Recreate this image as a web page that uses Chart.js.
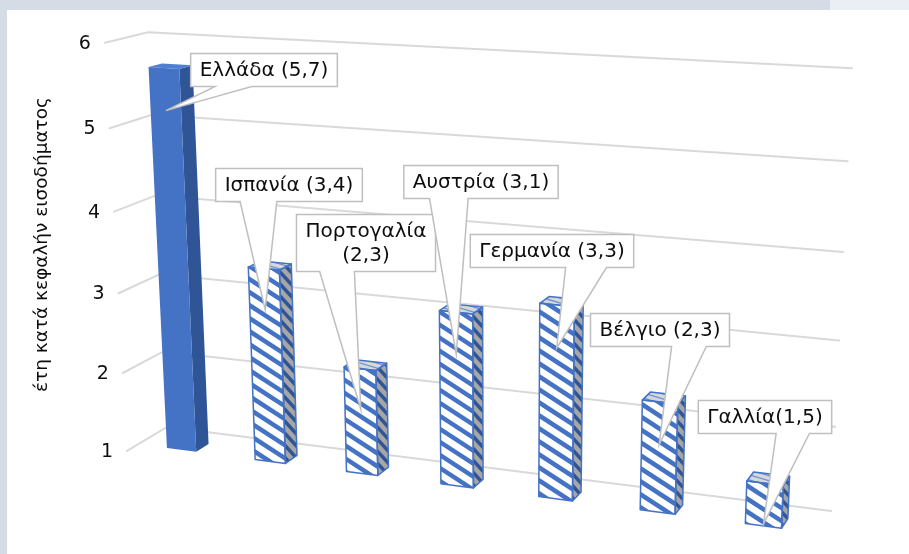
<!DOCTYPE html>
<html><head><meta charset="utf-8">
<script src="https://cdn.jsdelivr.net/npm/chart.js@4/dist/chart.umd.min.js"></script>
<style>html,body{margin:0;padding:0;background:#fff;}canvas{display:block;}</style>
</head><body>
<canvas id="c" width="909" height="554"></canvas>
<script>
// ---------- data ----------
const categories = ['Ελλάδα', 'Ισπανία', 'Πορτογαλία', 'Αυστρία', 'Γερμανία', 'Βέλγιο', 'Γαλλία'];
const values = [5.7, 3.4, 2.3, 3.1, 3.3, 2.3, 1.5];
const yTicks = [1, 2, 3, 4, 5, 6];
const axisTitle = 'έτη κατά κεφαλήν εισοδήματος';
const labelSeparators = [' ', ' ', '\n', ' ', ' ', ' ', ''];

// ---------- layout / style ----------
const calloutCenters = [[264, 70], [289, 185], [366, 243], [481, 182], [552, 251], [660, 330], [765, 417]];
const calloutSides = ['L', 'L', 'L', 'L', 'R', 'R', 'R'];
const highlightIndex = 0;
const FONT = '"DejaVu Sans", sans-serif';
const BLUE = '#4472C4';
const Z_FRONT = 0.725, Z_BACK = 0.406;

// perspective projection of the 3D box (X: 0..1 across, Y: 0..5 up, Z: 0 back .. 1 front)
function proj(X, Y, Z) {
  const w = 1 - 0.113 * X - 0.010704 * Y - 0.03445 * Z;
  return [(167 + 570.1 * X - 5.384 * Y - 44.37 * Z) / w,
          (427 + 26.33 * X - 79.29 * Y + 8.44 * Z) / w];
}
function pathPoly(ctx, poly) {
  ctx.beginPath();
  ctx.moveTo(poly[0][0], poly[0][1]);
  for (let i = 1; i < poly.length; i++) ctx.lineTo(poly[i][0], poly[i][1]);
  ctx.closePath();
}
function fillHatch(ctx, poly, bg, col, slope, period, lw) {
  ctx.save();
  pathPoly(ctx, poly);
  ctx.fillStyle = bg; ctx.fill(); ctx.clip();
  const xs = poly.map(p => p[0]), ys = poly.map(p => p[1]);
  const x0 = Math.min(...xs) - 3, x1 = Math.max(...xs) + 3;
  const y0 = Math.min(...ys) - 3, y1 = Math.max(...ys) + 3;
  ctx.strokeStyle = col; ctx.lineWidth = lw;
  const cMin = Math.min(y0 - slope * x1, y0 - slope * x0) - period;
  const cMax = Math.max(y1 - slope * x0, y1 - slope * x1) + period;
  for (let c = Math.floor(cMin / period) * period; c <= cMax; c += period) {
    ctx.beginPath(); ctx.moveTo(x0, c + slope * x0); ctx.lineTo(x1, c + slope * x1); ctx.stroke();
  }
  ctx.restore();
}
function strokePoly(ctx, poly, col, lw) {
  ctx.save(); pathPoly(ctx, poly); ctx.strokeStyle = col; ctx.lineWidth = lw; ctx.lineJoin = 'round'; ctx.stroke(); ctx.restore();
}

const persp = {
  id: 'persp',
  beforeDraw(chart) {
    const ctx = chart.ctx;
    ctx.save();
    ctx.fillStyle = '#ffffff'; ctx.fillRect(0, 0, chart.width, chart.height);
    ctx.fillStyle = '#d6dce5'; ctx.fillRect(0, 0, 830, 10); ctx.fillRect(0, 0, 7, chart.height);
    ctx.fillStyle = '#eaeef5'; ctx.fillRect(830, 0, chart.width - 830, 10);
    ctx.restore();
  },
  beforeDatasetsDraw(chart) {
    const { ctx, chartArea: a, scales: { y } } = chart;
    const span = y.max - y.min;
    const toY = px => (a.bottom - px) / a.height * span;
    ctx.save();
    ctx.lineWidth = 2; ctx.strokeStyle = '#d9d9d9'; ctx.lineCap = 'round';
    ctx.font = '19px ' + FONT; ctx.fillStyle = '#0d0d0d';
    ctx.textAlign = 'right'; ctx.textBaseline = 'middle';
    y.ticks.forEach(t => {
      const Y = toY(y.getPixelForValue(t.value));
      const p0 = proj(0, Y, 1), p1 = proj(0, Y, 0), p2 = proj(1, Y, 0);
      ctx.beginPath(); ctx.moveTo(p0[0], p0[1]); ctx.lineTo(p1[0], p1[1]); ctx.lineTo(p2[0], p2[1]); ctx.stroke();
      ctx.fillText(String(t.value), p0[0] - 14, p0[1] + 1);
    });
    ctx.restore();
  },
  afterDatasetsDraw(chart) {
    const { ctx, chartArea: a, scales: { y } } = chart;
    const span = y.max - y.min;
    const toY = px => Math.max(0, (a.bottom - px) / a.height * span);
    const toX = px => (px - a.left) / a.width;
    const meta = chart.getDatasetMeta(0);
    const bars = meta.data.map((el, i) => {
      const xl = toX(el.x - el.width / 2), xr = toX(el.x + el.width / 2);
      const yt = toY(el.y), yb = toY(el.base);
      const front = [proj(xl, yb, Z_FRONT), proj(xr, yb, Z_FRONT), proj(xr, yt, Z_FRONT), proj(xl, yt, Z_FRONT)];
      const side = [proj(xr, yb, Z_FRONT), proj(xr, yb, Z_BACK), proj(xr, yt, Z_BACK), proj(xr, yt, Z_FRONT)];
      const top = [proj(xl, yt, Z_FRONT), proj(xr, yt, Z_FRONT), proj(xr, yt, Z_BACK), proj(xl, yt, Z_BACK)];
      if (i === highlightIndex) {
        ctx.save();
        pathPoly(ctx, side); ctx.fillStyle = '#2F5597'; ctx.fill();
        pathPoly(ctx, top); ctx.fillStyle = '#4f7fd3'; ctx.fill();
        pathPoly(ctx, front); ctx.fillStyle = BLUE; ctx.fill();
        ctx.restore();
      } else {
        fillHatch(ctx, side, '#a6a6a6', '#2f5597', 1.1, 12, 3.5);
        fillHatch(ctx, top, '#d4d8de', '#6f8fc8', 0.3, 5, 1.2);
        fillHatch(ctx, front, '#ffffff', BLUE, 0.65, 13, 4.5);
        strokePoly(ctx, side, BLUE, 1.5);
        strokePoly(ctx, top, BLUE, 1.5);
        strokePoly(ctx, front, BLUE, 1.5);
      }
      return { xl, xr, yt, yb };
    });
    // callouts
    ctx.save();
    ctx.font = '20px ' + FONT;
    bars.forEach((b, i) => {
      const val = values[i].toFixed(1).replace('.', ',');
      const text = categories[i] + labelSeparators[i] + '(' + val + ')';
      const lines = text.split('\n');
      const lh = 24;
      const tw = Math.max(...lines.map(l => ctx.measureText(l).width));
      const bw = tw + 18, bh = lines.length * lh + 9;
      const [cx, cy] = calloutCenters[i];
      const left = cx - bw / 2, topY = cy - bh / 2, right = left + bw, bottom = topY + bh;
      const tip = proj((b.xl + b.xr) / 2, Math.max(b.yt - 0.5, b.yb + 0.02), Z_FRONT);
      const f = calloutSides[i] === 'L' ? [2 / 12, 5 / 12] : [7 / 12, 10 / 12];
      const b1 = left + bw * f[0], b2 = left + bw * f[1];
      ctx.beginPath();
      ctx.moveTo(left, topY); ctx.lineTo(right, topY); ctx.lineTo(right, bottom);
      ctx.lineTo(b2, bottom); ctx.lineTo(tip[0], tip[1]); ctx.lineTo(b1, bottom);
      ctx.lineTo(left, bottom); ctx.closePath();
      ctx.fillStyle = '#ffffff'; ctx.fill();
      ctx.strokeStyle = '#bfbfbf'; ctx.lineWidth = 1.5; ctx.stroke();
      ctx.fillStyle = '#0d0d0d'; ctx.textAlign = 'center'; ctx.textBaseline = 'middle';
      lines.forEach((l, k) => ctx.fillText(l, cx, cy - (lines.length - 1) * lh / 2 + k * lh + 1));
    });
    ctx.restore();
  }
};

new Chart(document.getElementById('c'), {
  type: 'bar',
  data: {
    labels: categories,
    datasets: [{ data: values, base: 1, backgroundColor: 'rgba(0,0,0,0)', borderWidth: 0, categoryPercentage: 1, barPercentage: 0.336 }]
  },
  options: {
    responsive: false, animation: false, devicePixelRatio: 1,
    layout: { padding: { left: 31, top: 35, bottom: 100, right: 60 } },
    plugins: { legend: { display: false }, tooltip: { enabled: false } },
    events: [],
    scales: {
      x: { display: false },
      y: {
        min: 1, max: 6,
        afterBuildTicks: s => { s.ticks = yTicks.map(v => ({ value: v })); },
        grid: { display: false }, border: { display: false },
        ticks: { display: false },
        title: { display: true, text: axisTitle, color: '#0d0d0d', font: { family: 'DejaVu Sans', size: 18.5 }, padding: 0 }
      }
    }
  },
  plugins: [persp]
});
</script>
</body></html>
